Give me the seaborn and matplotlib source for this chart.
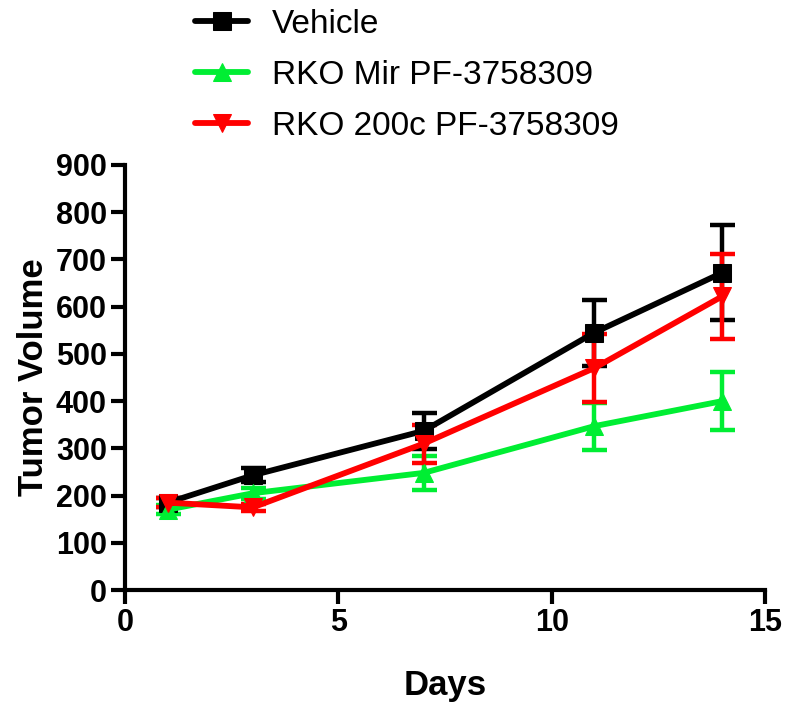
import numpy as np
import pandas as pd
import matplotlib
matplotlib.use("Agg")
import matplotlib.pyplot as plt
import seaborn as sns

# values
days = [1, 3, 7, 11, 14]
vehicle = [185, 243, 337, 545, 672]
vehicle_err = [10, 15, 38, 70, 100]
mir = [170, 205, 248, 347, 400]
mir_err = [10, 12, 36, 50, 62]
c200 = [185, 175, 310, 470, 622]
c200_err = [10, 8, 40, 72, 90]

names = ["Vehicle", "RKO Mir PF-3758309", "RKO 200c PF-3758309"]
colors = ["#000000", "#00ee33", "#ff0000"]
markers = ["s", "^", "v"]

df = pd.concat([
    pd.DataFrame({"Days": days, "vol": v, "err": e, "group": n})
    for v, e, n in zip([vehicle, mir, c200], [vehicle_err, mir_err, c200_err], names)
])

sns.set_style("ticks", {"axes.edgecolor": "black", "xtick.color": "black",
                        "ytick.color": "black", "text.color": "black",
                        "axes.labelcolor": "black"})
plt.rcParams["font.family"] = ["Liberation Sans", "DejaVu Sans"]

fig = plt.figure(figsize=(7.94, 7.13), dpi=100)
ax = fig.add_axes([125 / 794, 1 - 590 / 713, 640 / 794, 425 / 713])

for n, c, m in zip(names, colors, markers):
    sub = df[df.group == n]
    ax.errorbar(sub.Days, sub.vol, yerr=sub.err, fmt="none", ecolor=c,
                elinewidth=3.2, capsize=9, capthick=3.2, zorder=2)
    sns.lineplot(x=sub.Days, y=sub.vol, ax=ax, color=c, marker=m, markersize=13,
                 markeredgecolor=c, linewidth=4.2, label=n, zorder=3)

ax.set_xlim(0, 15)
ax.set_ylim(0, 900)
ax.set_xticks([0, 5, 10, 15])
ax.set_yticks(np.arange(0, 901, 100))
ax.tick_params(width=3, length=10, direction="out", labelsize=22, pad=3)
for lab in ax.get_xticklabels() + ax.get_yticklabels():
    lab.set_fontweight("bold")
for s in ["left", "bottom"]:
    ax.spines[s].set_linewidth(3)
sns.despine(ax=ax)
ax.set_xlabel("Days", fontsize=25, fontweight="bold", labelpad=22)
ax.set_ylabel("Tumor Volume", fontsize=25, fontweight="bold", labelpad=4)

handles, labels = ax.get_legend_handles_labels()
ax.legend().remove()
fig.legend(handles, labels, loc="upper left", bbox_to_anchor=(195 / 794, 1 - 9 / 713),
           frameon=False, fontsize=24, handlelength=1.6, labelspacing=0.6,
           borderaxespad=0.0, borderpad=0.0, handletextpad=0.7)

fig.savefig("out.png", dpi=100)
